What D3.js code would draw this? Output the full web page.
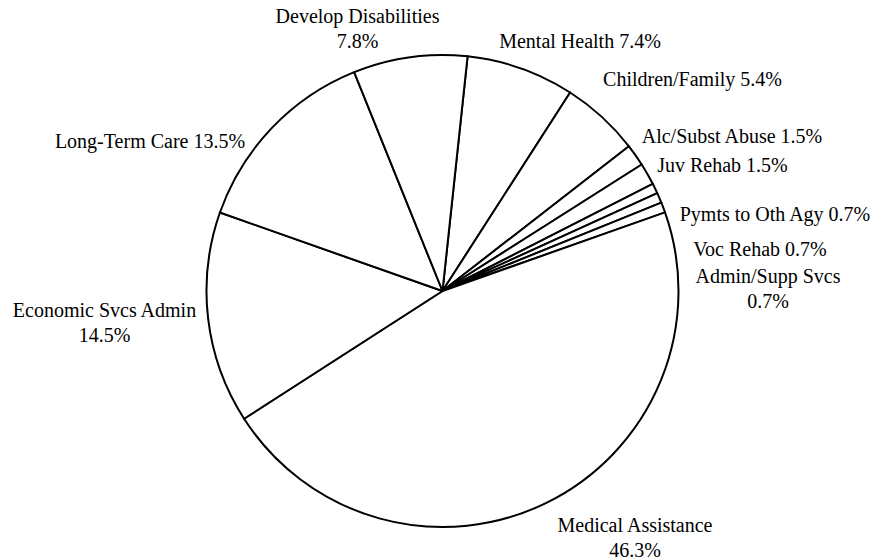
<!DOCTYPE html>
<html>
<head>
<meta charset="utf-8">
<script src="https://cdn.jsdelivr.net/npm/d3@7"></script>
<style>
  html, body { margin: 0; padding: 0; background: #fff; }
  svg { display: block; }
</style>
</head>
<body>
<svg id="chart" width="882" height="560"></svg>
<script>
// ---- data ----
const categories = [
  "Mental Health", "Children/Family", "Alc/Subst Abuse", "Juv Rehab",
  "Pymts to Oth Agy", "Voc Rehab", "Admin/Supp Svcs", "Medical Assistance",
  "Economic Svcs Admin", "Long-Term Care", "Develop Disabilities"
];
const values = [7.4, 5.4, 1.5, 1.5, 0.7, 0.7, 0.7, 46.3, 14.5, 13.5, 7.8];
// label line breaks: true = percentage goes on a second line
const twoLine = [false, false, false, false, false, false, true, true, true, false, true];

// ---- layout (label anchor: centre x, first baseline y) ----
const labelPos = [
  [580, 48], [692.5, 86], [732, 143], [722.5, 172],
  [775, 221], [760, 256], [768, 283], [635, 532],
  [104.5, 317], [150, 148], [357.5, 23]
];
const lineGap = 24.5;

const svg = d3.select("#chart");
const cx = 442.5, cy = 291, r = 236;
const a0 = 6.1 * Math.PI / 180;

const pie = d3.pie().sort(null).value(d => d).startAngle(a0).endAngle(a0 + 2 * Math.PI);
const arc = d3.arc().innerRadius(0).outerRadius(r);

const g = svg.append("g").attr("transform", `translate(${cx},${cy})`);
g.selectAll("path")
  .data(pie(values))
  .join("path")
  .attr("d", arc)
  .attr("fill", "#fff")
  .attr("stroke", "#000")
  .attr("stroke-width", 2)
  .attr("stroke-linejoin", "round");

const labels = svg.append("g");
categories.forEach((c, i) => {
  const pct = values[i].toFixed(1) + "%";
  const lines = twoLine[i] ? [c, pct] : [c + " " + pct];
  const t = labels.append("text")
    .attr("text-anchor", "middle")
    .attr("x", labelPos[i][0])
    .attr("y", labelPos[i][1])
    .style("font-family", "'Liberation Serif'")
    .style("font-size", "20px")
    .style("fill", "#000");
  lines.forEach((ln, k) => {
    t.append("tspan")
      .attr("x", labelPos[i][0])
      .attr("y", labelPos[i][1] + k * lineGap)
      .text(ln);
  });
});
</script>
</body>
</html>
